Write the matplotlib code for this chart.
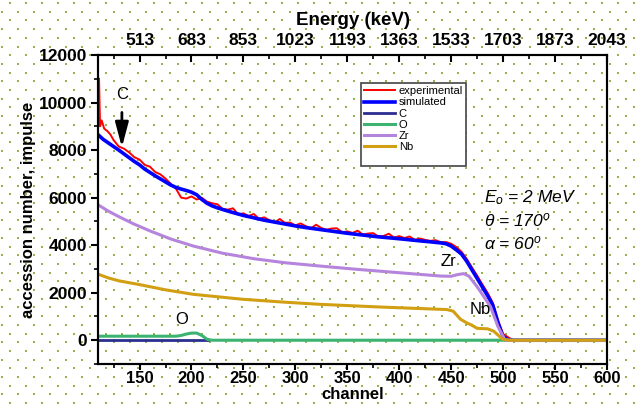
import numpy as np
import matplotlib
matplotlib.use("Agg")
import matplotlib.pyplot as plt
from matplotlib.lines import Line2D
from matplotlib.ticker import MultipleLocator

plt.rcParams['font.family'] = ['Liberation Sans', 'DejaVu Sans']
plt.rcParams['mathtext.fontset'] = 'custom'
plt.rcParams['mathtext.rm'] = 'Liberation Sans'
plt.rcParams['mathtext.it'] = 'Liberation Sans:italic'

# ----- DATA -----
exp_ch = [111, 112, 113.5, 116, 119, 122] + list(range(125, 515, 5)) + [600]
exp_val = [11000, 9000, 9250, 8900, 8800, 8650,
           8420, 8150, 8060, 7900, 7700, 7600, 7380, 7300, 7080, 6980,
           6800, 6580, 6380, 6000, 5960, 6050, 5920, 5990, 5830, 5760,
           5720, 5520, 5495, 5550, 5290, 5340, 5230, 5310, 5110, 5170,
           5050, 4960, 5100, 4940, 4950, 4830, 4915, 4800, 4710, 4860,
           4720, 4650, 4700, 4710, 4540, 4580, 4515, 4610, 4445, 4490,
           4505, 4360, 4390, 4480, 4320, 4380, 4300, 4365, 4220, 4280,
           4220, 4180, 4210, 4125, 4130, 4060, 3920, 3720, 3420, 3060,
           2720, 2350, 2000, 1580, 850, 260, 120, 0,
           0]

sim_ch = [110, 115, 120, 125, 130, 135, 140, 145, 150, 155, 160, 165, 170,
          175, 180, 185, 190, 195, 200, 205, 210, 215, 220, 225, 230, 240,
          250, 260, 270, 280, 290, 300, 310, 320, 330, 340, 350, 360, 370,
          380, 390, 400, 410, 420, 430, 440, 445, 450, 455, 460, 465, 470,
          475, 480, 485, 490, 495, 500, 505, 510, 600]
sim_val = [8650, 8450, 8300, 8150, 8000, 7840, 7680, 7520, 7380, 7200, 7060,
           6920, 6790, 6660, 6530, 6430, 6360, 6300, 6230, 6120, 5920, 5760,
           5650, 5570, 5500, 5370, 5250, 5150, 5050, 4970, 4890, 4810, 4740,
           4680, 4620, 4560, 4500, 4450, 4400, 4350, 4310, 4270, 4225, 4180,
           4140, 4095, 4060, 3960, 3800, 3620, 3320, 2960, 2600, 2240, 1880,
           1480, 740, 150, 10, 0, 0]

c_ch = [110, 216]
c_val = [0, 0]

o_ch = [110, 185, 190, 195, 200, 205, 210, 215, 220, 600]
o_val = [170, 170, 200, 260, 300, 300, 200, 40, 0, 0]

zr_ch = [110, 120, 130, 144, 160, 180, 202, 230, 260, 290, 324, 360, 400,
         440, 450, 456, 462, 467, 475, 482, 488, 495, 502, 600]
zr_val = [5700, 5430, 5200, 4900, 4600, 4260, 3960, 3660, 3430, 3260, 3120,
          2980, 2840, 2700, 2690, 2760, 2800, 2700, 2250, 1800, 1400, 580,
          0, 0]

nb_ch = [110, 120, 130, 150, 175, 202, 250, 290, 324, 380, 446, 452, 459,
         465, 470, 475, 485, 491, 499, 505, 600]
nb_val = [2780, 2620, 2500, 2340, 2120, 1930, 1720, 1600, 1510, 1400, 1290,
          1220, 880, 730, 630, 500, 480, 380, 60, 0, 0]

chan_ticks = [150, 200, 250, 300, 350, 400, 450, 500, 550, 600]
energy_labels = ['513', '683', '853', '1023', '1193', '1363', '1533',
                 '1703', '1873', '2043']

# --- Figure setup ---
fig = plt.figure(figsize=(6.4, 4.04), dpi=100)

# dotted paper background
bg = fig.add_axes([0, 0, 1, 1], zorder=-10)
bg.set_xlim(0, 640)
bg.set_ylim(404, 0)
bg.axis('off')
gx, gy = np.meshgrid(np.arange(10, 640, 16), np.arange(3, 404, 17.4))
bg.scatter(gx.ravel(), gy.ravel(), s=3, marker='s', color='#93b447', lw=0)
bg.scatter(gx.ravel() - 8, gy.ravel() + 8.7, s=3, marker='s', color='#93b447', lw=0)

ax = fig.add_axes([98 / 640, 1 - 364 / 404, 509 / 640, 309 / 404])
ax.patch.set_alpha(0)

ax.plot(exp_ch, exp_val, color='#ff0000', lw=1.4, label='experimental')
ax.plot(sim_ch, sim_val, color='#0000ff', lw=2.6, label='simulated')
ax.plot(c_ch, c_val, color='#2b2d8f', lw=2, label='C')
ax.plot(o_ch, o_val, color='#3cb371', lw=2.2, label='O')
ax.plot(zr_ch, zr_val, color='#b584dc', lw=2.2, label='Zr')
ax.plot(nb_ch, nb_val, color='#d29f12', lw=2.2, label='Nb')

ax.set_xlim(110, 600)
ax.set_ylim(-1000, 12000)
ax.xaxis.set_major_locator(MultipleLocator(50))
ax.xaxis.set_minor_locator(MultipleLocator(25))
ax.yaxis.set_major_locator(MultipleLocator(2000))
ax.yaxis.set_minor_locator(MultipleLocator(1000))
ax.set_xticks(chan_ticks)
ax.tick_params(which='major', direction='out', length=5, width=1.5,
               labelsize=12.5, pad=3)
ax.tick_params(axis='x', which='major', length=4, pad=1, labelsize=12)
ax.tick_params(which='minor', direction='out', length=3, width=1.2)
ax.tick_params(top=False, right=False, which='both')
for lab in ax.get_xticklabels() + ax.get_yticklabels():
    lab.set_fontweight('bold')
for s in ax.spines.values():
    s.set_linewidth(1.5)

ax.set_xlabel('channel', fontsize=12, fontweight='bold', labelpad=0.5)
ax.set_ylabel('accession number, impulse', fontsize=12, fontweight='bold',
              labelpad=2)

# top energy axis
ax2 = ax.twiny()
ax2.set_xlim(ax.get_xlim())
ax2.set_xticks(chan_ticks)
ax2.set_xticklabels(energy_labels)
ax2.xaxis.set_minor_locator(MultipleLocator(25))
ax2.tick_params(which='major', direction='in', length=5, width=1.5,
                labelsize=12.5, pad=5)
ax2.tick_params(which='minor', direction='in', length=3, width=1.2)
for lab in ax2.get_xticklabels():
    lab.set_fontweight('bold')
ax2.set_xlabel('Energy (keV)', fontsize=13.5, fontweight='bold', labelpad=6)
for s in ax2.spines.values():
    s.set_linewidth(1.5)

# annotations
ax.annotate('', xy=(133, 8000), xytext=(133, 9700),
            arrowprops=dict(arrowstyle='-|>,head_length=0.75,head_width=0.2',
                            mutation_scale=20, lw=2, color='k'))
ax.text(133, 10350, 'C', fontsize=12, ha='center', va='center')
ax.text(191, 860, 'O', fontsize=12, ha='center', va='center')
ax.text(447, 3300, 'Zr', fontsize=12, ha='center', va='center')
ax.text(478, 1300, 'Nb', fontsize=12, ha='center', va='center')

ax.text(482, 6000, r'$E_o$ = 2 MeV', fontsize=12.5, style='italic', va='center')
ax.text(482, 5030, r'θ = 170$^o$', fontsize=12.5, style='italic', va='center')
ax.text(482, 4060, r'α = 60$^o$', fontsize=12.5, style='italic', va='center')

handles, labels = ax.get_legend_handles_labels()
handles.append(Line2D([], [], color='none'))
labels.append(' ')
leg = ax.legend(handles, labels, loc='upper left',
                bbox_to_anchor=((361 - 98) / 509, (364 - 83) / 309),
                fontsize=8, frameon=True, fancybox=False, framealpha=1,
                edgecolor='#444444', handlelength=2.8, handletextpad=0.3,
                labelspacing=0.1, borderpad=0.3, borderaxespad=0)
leg.get_frame().set_linewidth(1.2)

fig.savefig('out.png', dpi=100)
